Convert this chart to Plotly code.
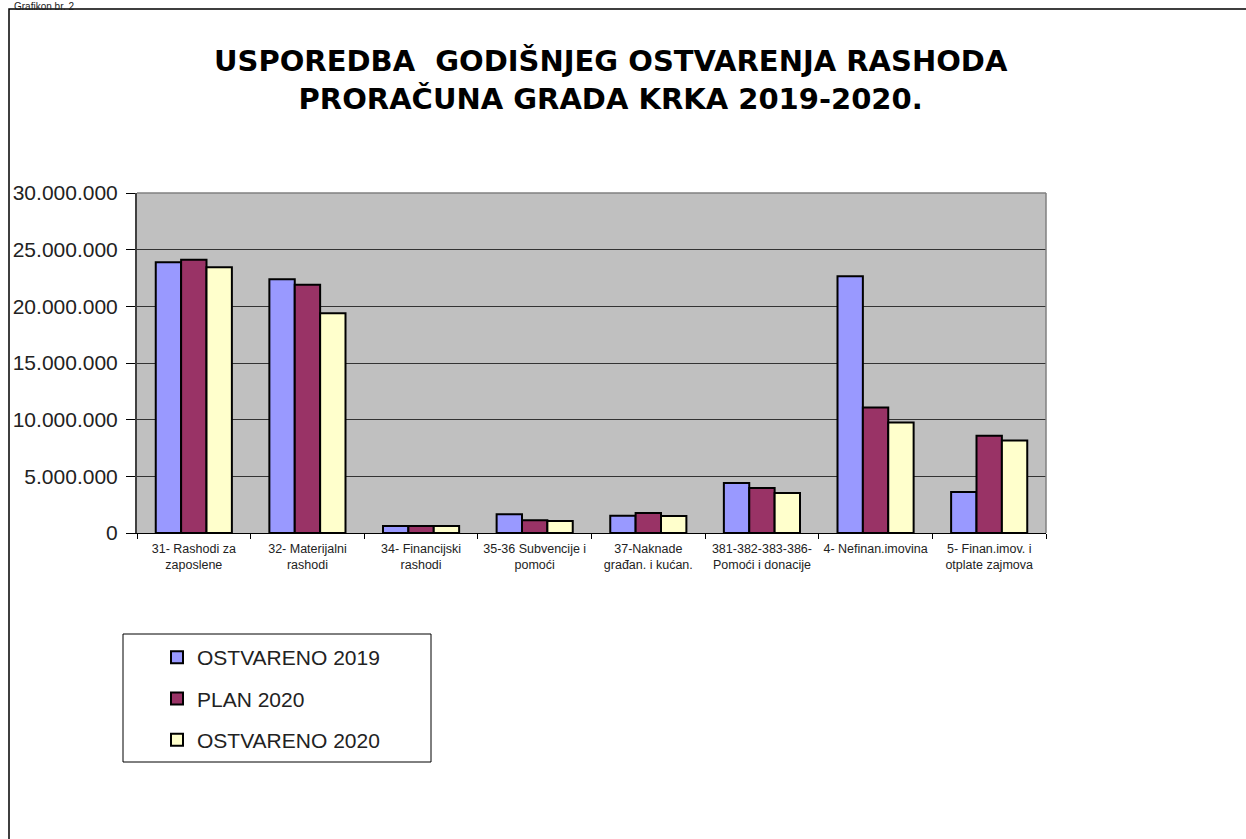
import plotly.graph_objects as go

W, H = 1246, 839

categories = [
    "31- Rashodi za<br>zaposlene",
    "32- Materijalni<br>rashodi",
    "34- Financijski<br>rashodi",
    "35-36 Subvencije i<br>pomoći",
    "37-Naknade<br>građan. i kućan.",
    "381-382-383-386-<br>Pomoći i donacije",
    "4- Nefinan.imovina",
    "5- Finan.imov. i<br>otplate zajmova",
]
ostvareno_2019 = [23880000, 22400000, 620000, 1650000, 1530000, 4410000, 22650000, 3620000]
plan_2020 = [24100000, 21900000, 620000, 1120000, 1770000, 3970000, 11080000, 8590000]
ostvareno_2020 = [23440000, 19400000, 620000, 1060000, 1500000, 3530000, 9760000, 8170000]

series_names = ["OSTVARENO 2019", "PLAN 2020", "OSTVARENO 2020"]
series_colors = ["#9999FF", "#993366", "#FFFFCC"]

y_tickvals = [0, 5000000, 10000000, 15000000, 20000000, 25000000, 30000000]
y_ticktext = ["0", "5.000.000", "10.000.000", "15.000.000", "20.000.000", "25.000.000", "30.000.000"]

title_text = "<b>USPOREDBA  GODIŠNJEG OSTVARENJA RASHODA<br>PRORAČUNA GRADA KRKA 2019-2020.</b>"

FONT = "Arial, Liberation Sans, sans-serif"
TITLE_FONT = "DejaVu Sans, Arial, sans-serif"


def px(x):
    return x / W


def py(y):
    return 1 - y / H


fig = go.Figure()
for name, vals, col in zip(series_names, [ostvareno_2019, plan_2020, ostvareno_2020], series_colors):
    fig.add_trace(go.Bar(
        x=categories, y=vals, name=name, legendgroup=name,
        marker=dict(color=col, line=dict(color="#000000", width=2)),
    ))

# plot area bounds (page pixels)
L, R, T, B = 137, 1046, 193, 533

fig.update_layout(
    width=W, height=H,
    margin=dict(l=0, r=0, t=0, b=0, autoexpand=False),
    paper_bgcolor="white",
    plot_bgcolor="#C0C0C0",
    barmode="group",
    bargap=0.33,
    bargroupgap=0,
    font=dict(family=FONT, color="#222222"),
    showlegend=True,
    legend=dict(
        x=px(157), y=py(637), xanchor="left", yanchor="top",
        bgcolor="rgba(0,0,0,0)", borderwidth=0,
        font=dict(size=21, family=FONT, color="#222222"),
        tracegroupgap=11,
        traceorder="grouped",
    ),
    xaxis=dict(
        domain=[px(L), px(R)],
        showgrid=False,
        showline=True, linecolor="#000000", linewidth=1,
        ticks="outside", tickson="boundaries", ticklen=5, tickcolor="#000000",
        tickfont=dict(size=12.5, family=FONT, color="#222222"),
        ticklabelstandoff=4,
        tickangle=0,
        fixedrange=True,
    ),
    yaxis=dict(
        domain=[py(B), py(T)],
        range=[0, 30000000],
        tickvals=y_tickvals, ticktext=y_ticktext,
        showgrid=True, gridcolor="#333333", gridwidth=1.2,
        showline=True, linecolor="#404040", linewidth=2,
        ticks="outside", ticklen=9, tickcolor="#000000",
        tickfont=dict(size=21, family=FONT, color="#222222"),
        ticklabelstandoff=4,
        zeroline=False,
        fixedrange=True,
    ),
)

shapes = [
    # outer chart frame
    dict(type="rect", xref="paper", yref="paper",
         x0=px(9), x1=1.05, y0=-0.05, y1=py(9),
         line=dict(color="#000000", width=1.5), fillcolor="rgba(0,0,0,0)", layer="below"),
    # plot area border (top / right)
    dict(type="line", xref="paper", yref="paper",
         x0=px(L), x1=px(R), y0=py(T), y1=py(T),
         line=dict(color="#808080", width=1.5)),
    dict(type="line", xref="paper", yref="paper",
         x0=px(R), x1=px(R), y0=py(T), y1=py(B),
         line=dict(color="#808080", width=1.5)),
    # legend box
    dict(type="rect", xref="paper", yref="paper",
         x0=px(123), x1=px(431), y0=py(762), y1=py(634),
         line=dict(color="#000000", width=1), fillcolor="white", layer="below"),
]
fig.update_layout(shapes=shapes)

fig.add_annotation(
    text=title_text, xref="paper", yref="paper",
    x=px(611), y=py(80), xanchor="center", yanchor="middle",
    showarrow=False, align="center",
    font=dict(size=29, family=TITLE_FONT, color="#000000"),
)
fig.add_annotation(
    text="Grafikon br. 2", xref="paper", yref="paper",
    x=px(13), y=py(0), xanchor="left", yanchor="top",
    showarrow=False, align="left", borderpad=0,
    font=dict(size=10, family=FONT, color="#222222"),
)

fig.write_html(
    "out.html",
    config={"displayModeBar": False},
    post_script="document.body.style.margin='0';",
)
